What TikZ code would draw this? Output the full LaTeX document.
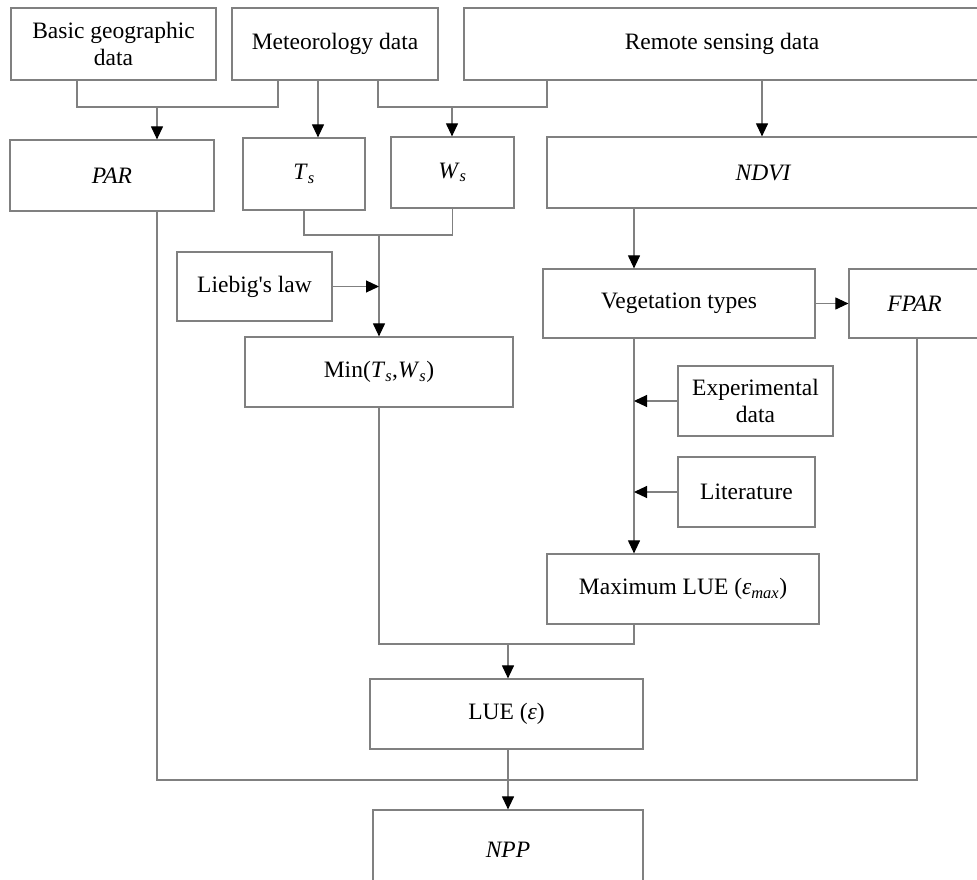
\documentclass[tikz,border=0pt]{standalone}
\usepackage{amsmath}
\usepackage{fontspec}
\setmainfont{Liberation Serif}
\usetikzlibrary{positioning,arrows.meta}

\definecolor{linegray}{RGB}{128,128,128}
\newcommand\itsub[2]{\textit{#1}$_{\text{\textit{#2}}}$}

\begin{document}
\begin{tikzpicture}[x=1pt,y=-1pt,
    box/.style={draw=linegray, line width=1.2pt, fill=white, inner sep=2pt,
                align=center, font=\fontsize{23.5}{27}\selectfont},
    ln/.style={draw=linegray, line width=1.1pt},
    arr/.style={ln, -{Triangle[length=13pt,width=12pt,color=black]}}]
    \useasboundingbox (0,0) rectangle (977,880);
    % inputs
    \node[box, minimum width=205, minimum height=72] (basic) at (113.5,44) {Basic geographic\\data};
    \node[box, minimum width=206, minimum height=72] (meteo) at (335,44) {Meteorology data};
    \node[box, minimum width=516, minimum height=72] (remote) at (722,44) {Remote sensing data};
    % second row
    \node[box, minimum width=204, minimum height=71] (par) at (112,175.5) {\textit{PAR}};
    \node[box, minimum width=122, minimum height=72] (ts) at (304,174) {\itsub{T}{s}};
    \node[box, minimum width=123, minimum height=71] (ws) at (452.5,172.5) {\itsub{W}{s}};
    \node[box, minimum width=433, minimum height=71] (ndvi) at (763.5,172.5) {\textit{NDVI}};
    % middle
    \node[box, minimum width=155, minimum height=69] (liebig) at (254.5,286.5) {Liebig\textquotesingle s law};
    \node[box, minimum width=268, minimum height=70] (minTW) at (379,372) {Min(\itsub{T}{s},\itsub{W}{s})};
    \node[box, minimum width=272, minimum height=69] (veg) at (679,303.5) {Vegetation types};
    \node[box, minimum width=131, minimum height=69] (fpar) at (914.5,303.5) {\textit{FPAR}};
    \node[box, minimum width=155, minimum height=70] (expdata) at (755.5,401) {Experimental\\data};
    \node[box, minimum width=137, minimum height=70] (lit) at (746.5,492) {Literature};
    \node[box, minimum width=272, minimum height=70] (lumax) at (683,589) {Maximum LUE (\itsub{ε}{max})};
    % output
    \node[box, minimum width=273, minimum height=70] (lue) at (506.5,714) {LUE (\textit{ε})};
    \node[box, minimum width=270, minimum height=80] (npp) at (508,850) {\textit{NPP}};

    \coordinate (j1) at (157,107);
    \coordinate (j2) at (452,107);
    \coordinate (j3) at (379,235);
    \coordinate (j4) at (508,644);
    \coordinate (j5) at (508,780);

    % top connectors
    \draw[ln] (77,0 |- basic.south) |- (j1) -| (278,0 |- meteo.south);
    \draw[arr] (j1) -- (j1 |- par.north);
    \draw[arr] (318,0 |- meteo.south) -- (318,0 |- ts.north);
    \draw[ln] (378,0 |- meteo.south) |- (j2) -| (547,0 |- remote.south);
    \draw[arr] (j2) -- (j2 |- ws.north);
    \draw[arr] (762,0 |- remote.south) -- (762,0 |- ndvi.north);
    % temperature and water
    \draw[ln] (ts.south) |- (j3) -| (ws.south);
    \draw[arr] (j3) -- (minTW.north);
    \draw[arr] (liebig.east) -- (liebig.east -| j3);
    % vegetation branch
    \draw[arr] (634,0 |- ndvi.south) -- (634,0 |- veg.north);
    \draw[arr] (veg.east) -- (fpar.west);
    \draw[arr] (634,0 |- veg.south) -- (634,0 |- lumax.north);
    \draw[arr] (expdata.west) -- (634,0 |- expdata.west);
    \draw[arr] (lit.west) -- (634,0 |- lit.west);
    % to LUE and NPP
    \draw[ln] (379,0 |- minTW.south) |- (j4) -| (634,0 |- lumax.south);
    \draw[arr] (j4) -- (j4 |- lue.north);
    \draw[ln] (157,0 |- par.south) |- (j5) -| (917,0 |- fpar.south);
    \draw[arr] (j4 |- lue.south) -- (j4 |- npp.north);
\end{tikzpicture}
\end{document}
